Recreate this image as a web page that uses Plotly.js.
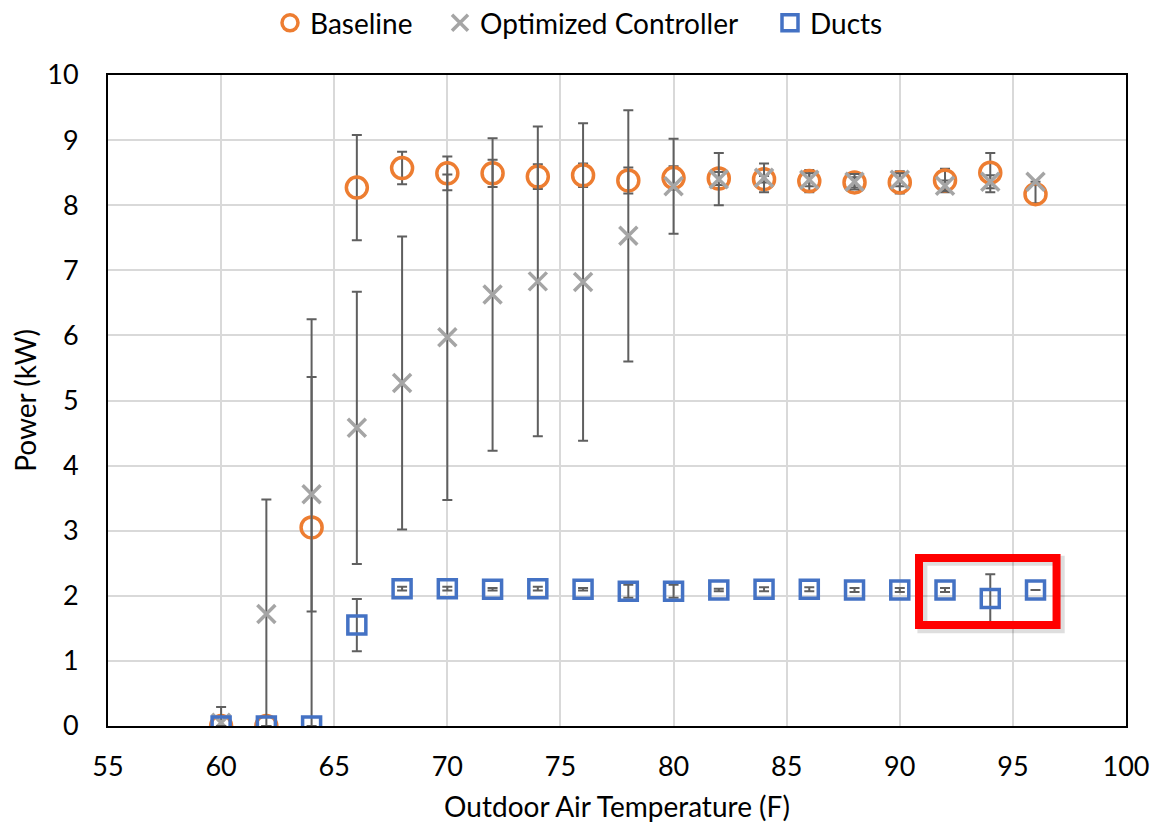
<!DOCTYPE html>
<html>
<head>
<meta charset="utf-8">
<script src="https://cdn.plot.ly/plotly-3.0.1.min.js"></script>
<style>html,body{margin:0;padding:0;background:#fff;}#chart{width:1156px;height:824px;}</style>
</head>
<body>
<div id="chart"></div>
<script>
const temperature = [60, 62, 64, 66, 68, 70, 72, 74, 76, 78, 80, 82, 84, 86, 88, 90, 92, 94, 96];

const baselinePower = [0, 0, 3.05, 8.27, 8.57, 8.49, 8.49, 8.44, 8.46, 8.38, 8.42, 8.41, 8.40, 8.37, 8.35, 8.35, 8.38, 8.50, 8.17];
const baselineError = [null, null, 3.2, 0.81, 0.25, 0.26, 0.21, 0.19, 0.18, 0.20, 0.18, 0.10, 0.05, 0.17, 0.08, 0.17, 0.18, 0.30, 0.14];

const optimizedPower = [0.05, 1.72, 3.56, 4.58, 5.27, 5.97, 6.63, 6.83, 6.82, 7.53, 8.29, 8.40, 8.42, 8.39, 8.36, 8.39, 8.30, 8.36, 8.36];
const optimizedError = [0.24, 1.76, 1.80, 2.09, 2.25, 2.50, 2.40, 2.38, 2.44, 1.93, 0.73, 0.40, 0.22, 0.10, 0.12, 0.10, 0.08, 0.10, null];

const ductsPower = [0, 0, 0, 1.55, 2.11, 2.11, 2.10, 2.11, 2.10, 2.07, 2.07, 2.09, 2.10, 2.10, 2.09, 2.09, 2.09, 1.96, 2.09];
const ductsError = [null, null, null, 0.40, 0.03, 0.03, 0.02, 0.03, 0.02, 0.10, 0.10, 0.02, 0.03, 0.03, 0.03, 0.03, 0.03, 0.37, null];

const seriesNames = ['Baseline', 'Optimized Controller', 'Ducts'];
const xTicks = [55, 60, 65, 70, 75, 80, 85, 90, 95, 100];
const yTicks = [0, 1, 2, 3, 4, 5, 6, 7, 8, 9, 10];

const FONT = 'Lato, "Open Sans", sans-serif';
const errStyle = {color: '#5f5f5f', thickness: 2, width: 5};

const traces = [
  {
    x: temperature, y: baselinePower, name: seriesNames[0], type: 'scatter', mode: 'markers', legend: 'legend',
    marker: {symbol: 'circle-open', size: 21, color: '#ED7D31', line: {color: '#ED7D31', width: 3.5}},
    error_y: Object.assign({type: 'data', array: baselineError, visible: true}, errStyle)
  },
  {
    x: temperature, y: optimizedPower, name: seriesNames[1], type: 'scatter', mode: 'markers', legend: 'legend2',
    marker: {symbol: 'x-thin-open', size: 18, color: '#A5A5A5', line: {color: '#A5A5A5', width: 3.5}},
    error_y: Object.assign({type: 'data', array: optimizedError, visible: true}, errStyle)
  },
  {
    x: temperature, y: ductsPower, name: seriesNames[2], type: 'scatter', mode: 'markers', legend: 'legend3',
    marker: {symbol: 'square-open', size: 18, color: '#4472C4', line: {color: '#4472C4', width: 3.5}},
    error_y: Object.assign({type: 'data', array: ductsError, visible: true}, errStyle)
  }
];

function legendAt(px) {
  return {orientation: 'h', x: px / 1156, xanchor: 'left', xref: 'container',
          y: 0.972, yanchor: 'middle', yref: 'container',
          font: {family: FONT, size: 28, color: '#000'}, itemwidth: 30,
          bgcolor: 'rgba(0,0,0,0)', borderwidth: 0};
}

const layout = {
  width: 1156, height: 824,
  margin: {l: 108, r: 30, t: 75, b: 98},
  paper_bgcolor: '#ffffff', plot_bgcolor: '#ffffff',
  font: {family: FONT, size: 27, color: '#000000'},
  showlegend: true,
  legend: legendAt(270),
  legend2: legendAt(440),
  legend3: legendAt(770),
  xaxis: {
    range: [55, 100], tickvals: xTicks, ticktext: xTicks.map(String),
    showgrid: true, gridcolor: '#d9d9d9', gridwidth: 2,
    showline: true, linecolor: '#000', linewidth: 2, mirror: true,
    ticks: '', ticklen: 0, zeroline: false, ticklabelstandoff: 16,
    tickfont: {family: FONT, size: 27, color: '#000'},
    title: {text: 'Outdoor Air Temperature (F)', font: {family: FONT, size: 28, color: '#000'}, standoff: 16}
  },
  yaxis: {
    range: [0, 10], tickvals: yTicks, ticktext: yTicks.map(String),
    showgrid: true, gridcolor: '#d9d9d9', gridwidth: 2,
    showline: true, linecolor: '#000', linewidth: 2, mirror: true,
    ticks: '', zeroline: false, ticklabelstandoff: 22,
    tickfont: {family: FONT, size: 27, color: '#000'},
    title: {text: 'Power (kW)', font: {family: FONT, size: 28, color: '#000'}, standoff: 2}
  },
  shapes: [
    {type: 'rect', xref: 'x', yref: 'y', x0: 91.0, x1: 97.07, y0: 1.50, y1: 2.54,
     line: {color: 'rgba(0,0,0,0.13)', width: 10}, fillcolor: 'rgba(0,0,0,0)'},
    {type: 'rect', xref: 'x', yref: 'y', x0: 90.85, x1: 96.93, y0: 1.55, y1: 2.58,
     line: {color: '#FF0000', width: 8}, fillcolor: 'rgba(0,0,0,0)'}
  ]
};

Plotly.newPlot('chart', traces, layout, {displayModeBar: false, staticPlot: true});
</script>
</body>
</html>
